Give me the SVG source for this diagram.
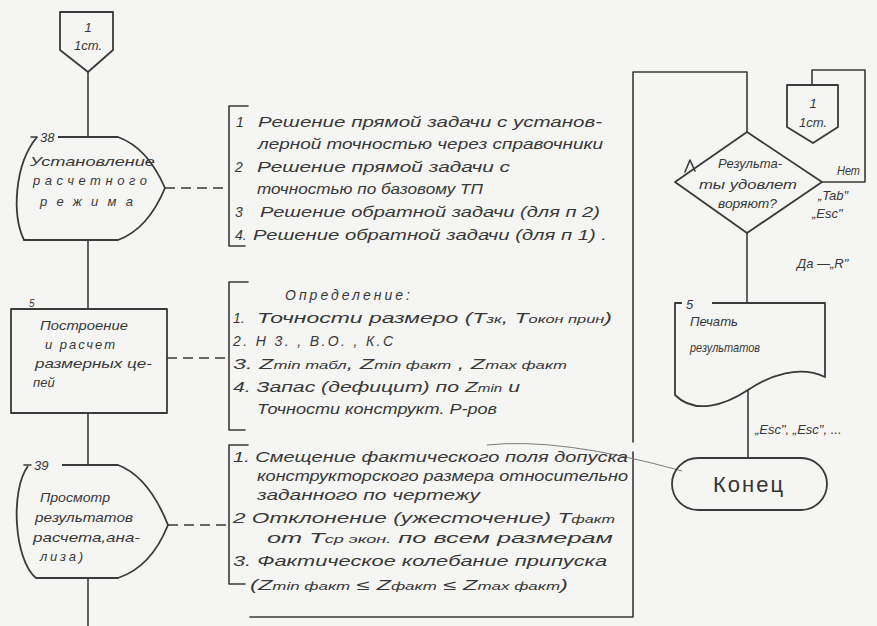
<svg xmlns="http://www.w3.org/2000/svg" width="877" height="626" viewBox="0 0 877 626">
<style>
.ln{fill:none;stroke:#3a3a3a;stroke-width:1.6;stroke-linecap:round;stroke-linejoin:round}
.sh{fill:none;stroke:#3a3a3a;stroke-width:1.8;stroke-linejoin:round}
.ds{fill:none;stroke:#3a3a3a;stroke-width:1.5;stroke-dasharray:10 6}
.th{fill:none;stroke:#7a7a7a;stroke-width:1}
.t{font-family:"Liberation Sans",Arial,sans-serif;font-style:italic;font-size:14px;fill:#383838}
.n{font-family:"Liberation Sans",Arial,sans-serif;font-style:italic;font-size:13px;fill:#383838}
.c{text-anchor:middle}
.s{font-size:10px}
</style>
<rect width="877" height="626" fill="#f5f5f3"/>

<g id="connectors">
  <path class="ln" d="M88,72 V137"/>
  <path class="ln" d="M88,240 V309"/>
  <path class="ln" d="M88,413 V465"/>
  <path class="ln" d="M88,578 V626"/>
  <path class="ds" d="M165,188 H229"/>
  <path class="ds" d="M167,358 H229"/>
  <path class="ds" d="M168,525 H229"/>
  <path class="ln" d="M250,617 H633 V452"/>
  <path class="ln" d="M633,442 V72 H747 V132"/>
  <path class="ln" d="M685,172 L690,160 L695,171"/>
  <path class="ln" d="M822,182 H865 V70 H812 V85"/>
  <path class="ln" d="M747,233 V303"/>
  <path class="ln" d="M748,390 V458"/>
  <path class="th" d="M487,445 Q560,437 682,471"/>
  <text class="n" x="837" y="175" textLength="23" lengthAdjust="spacingAndGlyphs">Нет</text>
  <text class="n" x="818" y="200">„Tab"</text>
  <text class="n" x="812" y="218">„Esc"</text>
  <text class="n" x="797" y="268">Да —„R"</text>
  <text class="n" x="755" y="434">„Esc", „Esc", ...</text>
</g>

<g id="start-connector">
  <path class="sh" d="M60,12 H113 V50 L88,72 L60,50 Z"/>
  <text class="n c" x="88" y="32">1</text>
  <text class="n c" x="88" y="50">1ст.</text>
</g>

<g id="node-38">
  <path class="sh" d="M58,137 H118 C140,145 155,165 165,188 C155,212 140,232 118,240 H24 C12,215 14,165 37,137"/>
  <path class="ln" d="M31,137 H37"/>
  <text class="n" x="40" y="142">38</text>
  <text class="n" x="30" y="166" textLength="125" lengthAdjust="spacingAndGlyphs">Установление</text>
  <text class="n" x="33" y="185" textLength="114" lengthAdjust="spacing">расчетного</text>
  <text class="n" x="40" y="206" textLength="93" lengthAdjust="spacing">режима</text>
</g>

<g id="bracket-38">
  <path class="ln" d="M248,106 H229 V246 H245"/>
  <text class="t" x="236" y="127">1</text>
  <text class="t" x="258" y="127" textLength="344" lengthAdjust="spacingAndGlyphs">Решение прямой задачи с установ-</text>
  <text class="t" x="258" y="149" textLength="345" lengthAdjust="spacingAndGlyphs">лерной точностью через справочники</text>
  <text class="t" x="235" y="172">2</text>
  <text class="t" x="257" y="172" textLength="253" lengthAdjust="spacingAndGlyphs">Решение прямой задачи с</text>
  <text class="t" x="257" y="194" textLength="226" lengthAdjust="spacingAndGlyphs">точностью по базовому ТП</text>
  <text class="t" x="235" y="217">3</text>
  <text class="t" x="260" y="217" textLength="340" lengthAdjust="spacingAndGlyphs">Решение обратной задачи (для п 2)</text>
  <text class="t" x="235" y="240">4.</text>
  <text class="t" x="253" y="240" textLength="354" lengthAdjust="spacingAndGlyphs">Решение обратной задачи (для п 1) .</text>
</g>

<g id="node-5">
  <rect class="sh" x="11" y="309" width="156" height="104"/>
  <text class="n" x="29" y="307" style="font-size:10px">5</text>
  <text class="n" x="40" y="330" textLength="88" lengthAdjust="spacingAndGlyphs">Построение</text>
  <text class="n" x="45" y="349" textLength="70" lengthAdjust="spacing">и расчет</text>
  <text class="n" x="35" y="368" textLength="117" lengthAdjust="spacingAndGlyphs">размерных це-</text>
  <text class="n" x="33" y="387">пей</text>
</g>

<g id="bracket-5">
  <path class="ln" d="M248,282 H229 V430 H245"/>
  <text class="t" x="285" y="300" textLength="125" lengthAdjust="spacing">Определение:</text>
  <text class="t" x="233" y="323">1.</text>
  <text class="t" x="257" y="323" textLength="355" lengthAdjust="spacingAndGlyphs">Точности размеро (Т<tspan class="s">зк</tspan>, Т<tspan class="s">окон прин</tspan>)</text>
  <text class="t" x="233" y="346" textLength="160" lengthAdjust="spacing">2. Н 3. , В.О. , К.С</text>
  <text class="t" x="233" y="369" textLength="334" lengthAdjust="spacingAndGlyphs">3. Z<tspan class="s">min табл</tspan>, Z<tspan class="s">min факт</tspan> , Z<tspan class="s">max факт</tspan></text>
  <text class="t" x="233" y="392" textLength="287" lengthAdjust="spacingAndGlyphs">4. Запас (дефицит) по Z<tspan class="s">min</tspan> и</text>
  <text class="t" x="257" y="414" textLength="240" lengthAdjust="spacingAndGlyphs">Точности конструкт. Р-ров</text>
</g>

<g id="node-39">
  <path class="sh" d="M62,465 H118 C142,474 158,500 168,525 C158,550 142,570 118,578 H36 C14,560 10,490 28,466"/>
  <path class="ln" d="M24,465 H31"/>
  <text class="n" x="34" y="470">39</text>
  <text class="n" x="40" y="502" textLength="70" lengthAdjust="spacingAndGlyphs">Просмотр</text>
  <text class="n" x="35" y="522" textLength="98" lengthAdjust="spacingAndGlyphs">результатов</text>
  <text class="n" x="33" y="542" textLength="107" lengthAdjust="spacingAndGlyphs">расчета,ана-</text>
  <text class="n" x="40" y="561" textLength="43" lengthAdjust="spacing">лиза)</text>
</g>

<g id="bracket-39">
  <path class="ln" d="M248,445 H229 V584 H245"/>
  <text class="t" x="233" y="462" textLength="395" lengthAdjust="spacingAndGlyphs">1. Смещение фактического поля допуска</text>
  <text class="t" x="257" y="481" textLength="371" lengthAdjust="spacingAndGlyphs">конструкторского размера относительно</text>
  <text class="t" x="257" y="500" textLength="223" lengthAdjust="spacingAndGlyphs">заданного по чертежу</text>
  <text class="t" x="233" y="523" textLength="382" lengthAdjust="spacingAndGlyphs">2 Отклонение (ужесточение) Т<tspan class="s">факт</tspan></text>
  <text class="t" x="267" y="543" textLength="346" lengthAdjust="spacingAndGlyphs">от Т<tspan class="s">ср экон.</tspan> по всем размерам</text>
  <text class="t" x="233" y="566" textLength="374" lengthAdjust="spacingAndGlyphs">3. Фактическое колебание припуска</text>
  <text class="t" x="250" y="590" textLength="318" lengthAdjust="spacingAndGlyphs">(Z<tspan class="s">min факт</tspan> ≤ Z<tspan class="s">факт</tspan> ≤ Z<tspan class="s">max факт</tspan>)</text>
</g>

<g id="decision">
  <path class="sh" d="M747,132 L822,182 L747,233 L675,182 Z"/>
  <text class="n" x="718" y="168" textLength="64" lengthAdjust="spacingAndGlyphs">Результа-</text>
  <text class="n" x="699" y="189" textLength="98" lengthAdjust="spacingAndGlyphs">ты удовлет</text>
  <text class="n" x="718" y="208" textLength="59" lengthAdjust="spacingAndGlyphs">воряют?</text>
</g>

<g id="end-connector">
  <path class="sh" d="M787,85 H838 V127 L813,143 L787,127 Z"/>
  <text class="n c" x="813" y="108">1</text>
  <text class="n c" x="813" y="127">1ст.</text>
</g>

<g id="print-5">
  <path class="sh" d="M712,303 H825 V377 C800,365 770,375 748,390 C725,405 695,415 675,395 V303 H682"/>
  <text class="n" x="686" y="309">5</text>
  <text class="n" x="690" y="326" textLength="48" lengthAdjust="spacingAndGlyphs">Печать</text>
  <text class="n" x="690" y="352" textLength="70" lengthAdjust="spacingAndGlyphs">результатов</text>
</g>

<g id="end">
  <rect class="sh" x="672" y="458" width="155" height="52" rx="26"/>
  <text x="749" y="492" text-anchor="middle" style="font-family:'Liberation Sans',Arial,sans-serif;font-size:22px;letter-spacing:2px;fill:#333">Конец</text>
</g>
</svg>
